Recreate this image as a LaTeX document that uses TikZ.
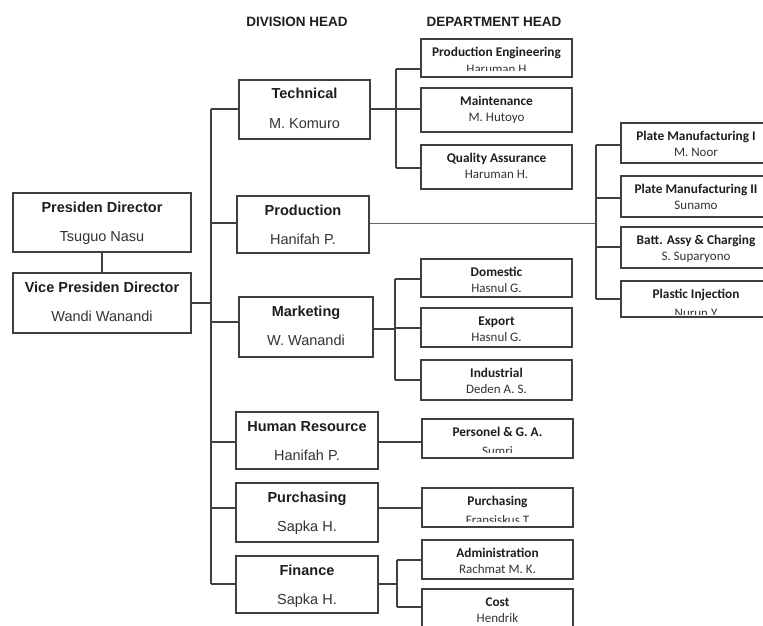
\documentclass[tikz,border=0pt]{standalone}
\usepackage{fontspec}
\setmainfont{Liberation Sans}
\newfontfamily\calib{Carlito}
\usetikzlibrary{calc}
\definecolor{ln}{HTML}{404040}
\definecolor{tx}{HTML}{1E1E1E}
\definecolor{tn}{HTML}{333333}
\newcommand\divbox[7]{%
  \node[box, minimum width={#4-#2}, minimum height={#5-#3}] (#1) at ({(#2+#4)/2},{(#3+#5)/2}) {};
  \node[dt] (#1-t) at ({(#2+#4)/2},{#3+19}) {#6};
  \node[dn] (#1-n) at ({(#2+#4)/2},{#3+48}) {#7};}
\newcommand\depbox[7]{%
  \node[box, minimum width={#4-#2}, minimum height={#5-#3}] (#1) at ({(#2+#4)/2},{(#3+#5)/2}) {};
  \node[pt] (#1-t) at ({(#2+#4)/2},{#3+17.5}) {#6};
  \node[pn] (#1-n) at ({(#2+#4)/2},{#3+33.5}) {#7};}
\newcommand\depboxc[8]{%
  \node[box, minimum width={#4-#2}, minimum height={#5-#3}] (#1) at ({(#2+#4)/2},{(#3+#5)/2}) {};
  \node[pt] (#1-t) at ({(#2+#4)/2},{#3+17.5}) {#6};
  \begin{scope}
    \clip (#2,#3) rectangle (#4,#8);
    \node[pn] (#1-n) at ({(#2+#4)/2},{#8+3}) {#7};
  \end{scope}}
\begin{document}
\begin{tikzpicture}[x=1pt,y=-1pt,
  box/.style={draw=ln, line width=1.5pt, rectangle, inner sep=0pt},
  conn/.style={draw=ln, line width=1.2pt},
  thinln/.style={draw=ln!80, line width=0.8pt},
  hd/.style={font=\fontsize{13.5}{15}\selectfont\bfseries, text=tx, anchor=base, inner sep=0pt},
  dt/.style={font=\fontsize{14.5}{16}\selectfont\bfseries, text=tx, anchor=base, inner sep=0pt},
  dn/.style={font=\fontsize{14.5}{16}\selectfont, text=tn, anchor=base, inner sep=0pt},
  pt/.style={font=\calib\fontsize{13.3}{15}\selectfont\bfseries, text=tx, anchor=base, inner sep=0pt},
  pn/.style={font=\calib\fontsize{13}{15}\selectfont, text=tn, anchor=base, inner sep=0pt}]
\path[use as bounding box, clip] (0,0) rectangle (763,626);
\fill[white] (0,0) rectangle (763,626);

% headers
\node[hd] (h1) at (297,27) {DIVISION HEAD};
\node[hd] (h2) at (494,27) {DEPARTMENT HEAD};

% directors
\divbox{pres}{13}{193}{191}{252}{Presiden Director}{Tsuguo Nasu}
\divbox{vice}{13}{273}{191}{333}{Vice Presiden Director}{Wandi Wanandi}

% divisions
\divbox{tech}{239}{80}{370}{139}{Technical}{M. Komuro}
\divbox{prod}{237}{196}{369}{253}{Production}{Hanifah P.}
\divbox{mkt}{239}{297}{373}{357}{Marketing}{W. Wanandi}
\divbox{hr}{236}{412}{378}{469}{Human Resource}{Hanifah P.}
\divbox{pur}{236}{483}{378}{542}{Purchasing}{Sapka H.}
\divbox{fin}{236}{556}{378}{613}{Finance}{Sapka H.}

% departments
\depboxc{pe}{421}{39}{572}{77}{Production Engineering}{Haruman H}{70.5}
\depbox{mt}{421}{88}{572}{132}{Maintenance}{M. Hutoyo}
\depbox{qa}{421}{145}{572}{189}{Quality Assurance}{Haruman H.}
\depbox{dom}{421}{259}{572}{297}{Domestic}{Hasnul G.}
\depbox{exp}{421}{308}{572}{347}{Export}{Hasnul G.}
\depbox{ind}{421}{360}{572}{400}{Industrial}{Deden A. S.}
\depboxc{pga}{422}{419}{573}{458}{Personel \& G. A.}{Sumri}{452}
\depboxc{pdep}{422}{488}{573}{527}{Purchasing}{Fransiskus T}{521}
\depbox{adm}{422}{540}{573}{579}{Administration}{Rachmat M. K.}
\depbox{cost}{422}{589}{573}{645}{Cost}{Hendrik}

% production departments
\depbox{pm1}{621}{123}{771}{163}{Plate Manufacturing I}{M. Noor}
\depbox{pm2}{621}{176}{771}{217}{Plate Manufacturing II}{Sunamo}
\depbox{batt}{621}{227}{771}{268}{Batt. Assy \& Charging}{S. Suparyono}
\depboxc{plas}{621}{281}{771}{317}{Plastic Injection}{Nurun Y}{314}

% bus coordinates
\coordinate (trk) at (211,0);
\coordinate (b1) at (396,0);
\coordinate (b2) at (596,0);
\coordinate (b3) at (395,0);
\coordinate (b4) at (397,0);

% director connectors
\draw[conn] (pres.south) -- (vice.north);
\draw[conn] (vice.east) -- (vice.east -| trk);
\draw[conn] (trk |- 0,109) -- (trk |- 0,584);
\draw[conn] (trk |- 0,109) -- (tech.west |- 0,109);
\draw[conn] (trk |- 0,223) -- (prod.west |- 0,223);
\draw[conn] (trk |- 0,322) -- (mkt.west |- 0,322);
\draw[conn] (trk |- 0,442) -- (hr.west |- 0,442);
\draw[conn] (trk |- 0,508) -- (pur.west |- 0,508);
\draw[conn] (trk |- 0,584) -- (fin.west |- 0,584);

% technical branch
\draw[conn] (tech.east |- 0,109) -- (b1 |- 0,109);
\draw[conn] (b1 |- 0,69) -- (b1 |- 0,168);
\draw[conn] (b1 |- 0,69) -- (pe.west |- 0,69);
\draw[conn] (b1 |- 0,109) -- (mt.west |- 0,109);
\draw[conn] (b1 |- 0,168) -- (qa.west |- 0,168);

% production branch
\draw[thinln] (prod.east |- 0,223) -- (b2 |- 0,223);
\draw[conn] (b2 |- 0,145) -- (b2 |- 0,299);
\draw[conn] (b2 |- 0,145) -- (pm1.west |- 0,145);
\draw[conn] (b2 |- 0,198) -- (pm2.west |- 0,198);
\draw[conn] (b2 |- 0,247) -- (batt.west |- 0,247);
\draw[conn] (b2 |- 0,299) -- (plas.west |- 0,299);

% marketing branch
\draw[conn] (mkt.east |- 0,329) -- (b3 |- 0,329);
\draw[conn] (b3 |- 0,279) -- (b3 |- 0,380);
\draw[conn] (b3 |- 0,279) -- (dom.west |- 0,279);
\draw[conn] (b3 |- 0,328) -- (exp.west |- 0,328);
\draw[conn] (b3 |- 0,380) -- (ind.west |- 0,380);

% single departments
\draw[conn] (hr.east |- 0,442) -- (pga.west |- 0,442);
\draw[conn] (pur.east |- 0,508) -- (pdep.west |- 0,508);

% finance branch
\draw[conn] (fin.east |- 0,584) -- (b4 |- 0,584);
\draw[conn] (b4 |- 0,560) -- (b4 |- 0,607);
\draw[conn] (b4 |- 0,560) -- (adm.west |- 0,560);
\draw[conn] (b4 |- 0,607) -- (cost.west |- 0,607);
\end{tikzpicture}
\end{document}
